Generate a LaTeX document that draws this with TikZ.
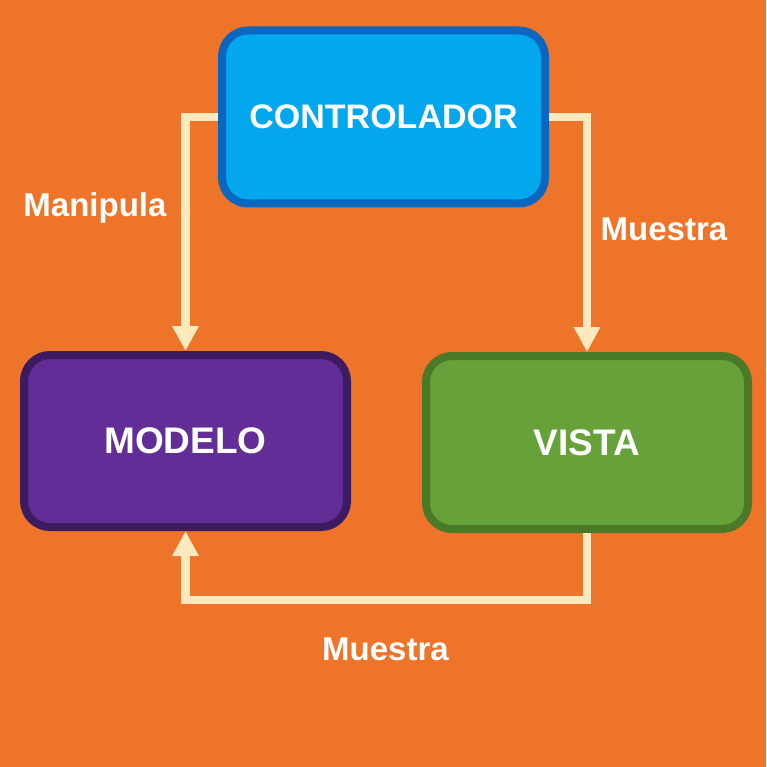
\documentclass[tikz,border=0pt]{standalone}
\usepackage{fontspec}
\setmainfont{Liberation Sans}
\usetikzlibrary{arrows.meta}
\definecolor{bg}{HTML}{EE7429}
\definecolor{cream}{HTML}{FDE9BE}
\definecolor{bluefill}{HTML}{04A6EE}
\definecolor{blueline}{HTML}{0A67BF}
\definecolor{purplefill}{HTML}{622D97}
\definecolor{purpleline}{HTML}{3D1B60}
\definecolor{greenfill}{HTML}{66A13A}
\definecolor{greenline}{HTML}{4A7A27}
\tikzset{
  box/.style={rounded corners=26pt, line width=8pt, inner sep=0pt, text=white,
    font=\bfseries\fontsize{37}{40}\selectfont},
  conn/.style={draw=cream, line width=8.5pt, line join=miter,
    -{Triangle[width=25pt,length=25pt]}},
  lbl/.style={text=white, anchor=base, inner sep=0pt, font=\bfseries\fontsize{33}{36}\selectfont}
}
\begin{document}
\begin{tikzpicture}[x=1pt,y=-1pt]
\fill[bg] (0,0) rectangle (766,767);
\useasboundingbox (0,0) rectangle (766,767);
\node[box, fill=bluefill, draw=blueline, minimum width=323pt, minimum height=173pt,
  font=\bfseries\fontsize{34}{38}\selectfont] (ctrl) at (383.5,117) {CONTROLADOR};
\node[box, fill=purplefill, draw=purpleline, minimum width=323pt, minimum height=172pt] (modelo) at (185.5,441) {MODELO};
\node[box, fill=greenfill, draw=greenline, minimum width=322pt, minimum height=173pt] (vista) at (587,442.5) {VISTA};
\draw[conn] (ctrl.west) -| (modelo.north);
\draw[conn] (ctrl.east) -| (vista.north);
\coordinate (bend) at (587,600);
\draw[conn] (vista.south) -- (bend) -| (modelo.south);
\node[lbl] (l1) at (95,216) {Manipula};
\node[lbl] (l2) at (664,240) {Muestra};
\node[lbl] (l3) at (385.5,660) {Muestra};
\end{tikzpicture}
\end{document}
